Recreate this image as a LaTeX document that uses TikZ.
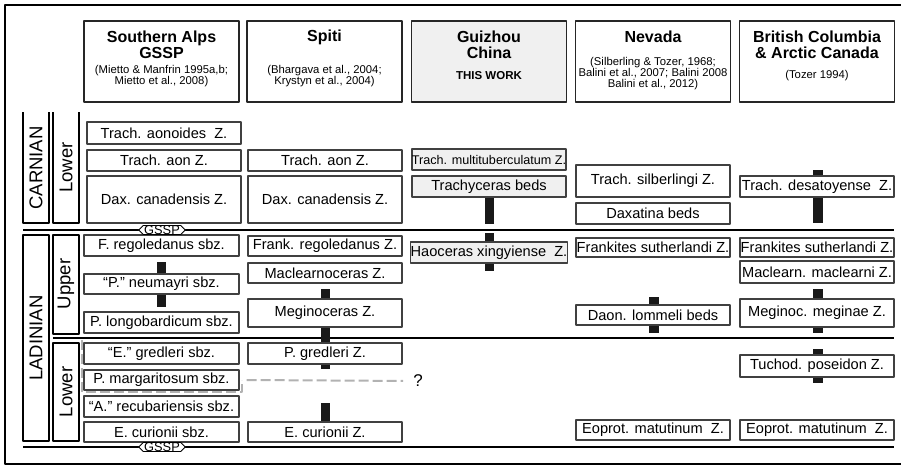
\documentclass[tikz,border=0pt]{standalone}
\usepackage{fontspec}
\setmainfont{Liberation Sans}
\usetikzlibrary{shapes.symbols}

\tikzset{
  zone/.style={draw=black!75, line width=1.3pt, fill=white, inner sep=0pt, minimum width=154pt, font=\fontsize{14.6}{16}\selectfont},
  cnzone/.style={zone, fill=gray!12},
  headbox/.style={draw=black!85, line width=1.4pt, fill=white, minimum width=155pt, minimum height=81pt},
  headtitle/.style={align=center, font=\bfseries\fontsize{16}{16}\selectfont},
  headref/.style={align=center, font=\fontsize{11.3}{10.5}\selectfont},
  stagelabel/.style={rotate=90, font=\fontsize{18.5}{18.5}\selectfont},
  bar/.style={fill=black!90},
  boundary/.style={line width=2.6pt},
  gssp/.style={shape=signal, signal to=west and east, draw, fill=white, line width=0.9pt, inner xsep=1pt, inner ysep=0pt, font=\fontsize{12.8}{12.8}\selectfont},
  markline/.style={gray!60, line width=2pt, dash pattern=on 10pt off 4pt}
}

\begin{document}
\begin{tikzpicture}[line join=round, x=1pt, y=-1pt]

                \useasboundingbox (0,0) rectangle (901,466);
                \draw[line width=2.4pt] (906,5) -- (5,5) -- (5,464) -- (906,464);

                % column heads
                \node[headbox] (hAlps) at (161.5,61.5) {};
                \node[headtitle] (hAlpsTitle) at (161.5,45) {Southern Alps\\GSSP};
                \node[headref] (hAlpsRef) at (161.5,76) {(Mietto \& Manfrin 1995a,b;\\Mietto et al., 2008)};

                \node[headbox] (hSpiti) at (324.5,61.5) {};
                \node[headtitle] (hSpitiTitle) at (324.5,37) {Spiti};
                \node[headref] (hSpitiRef) at (324.5,76) {(Bhargava et al., 2004;\\Krystyn et al., 2004)};

                \node[headbox, fill=gray!12] (hChina) at (489,61.5) {};
                \node[headtitle] (hChinaTitle) at (489,45) {Guizhou\\China};
                \node[headtitle, font=\bfseries\fontsize{11.5}{11.5}\selectfont] (hChinaRef) at (489,76) {THIS WORK};

                \node[headbox] (hNevada) at (653,61.5) {};
                \node[headtitle] (hNevadaTitle) at (653,37) {Nevada};
                \node[headref] (hNevadaRef) at (653,73.5) {(Silberling \& Tozer, 1968;\\Balini et al., 2007; Balini 2008\\Balini et al., 2012)};

                \node[headbox] (hCanada) at (817,61.5) {};
                \node[headtitle] (hCanadaTitle) at (817,45) {British Columbia\\\& Arctic Canada};
                \node[headref] (hCanadaRef) at (817,76) {(Tozer 1994)};

                % stages and substages
                \draw[line width=1.1pt] (23,112) -- (23,223) -- (49,223) -- (49,112);
                \draw[line width=1.1pt] (53,112) -- (53,223) -- (79,223) -- (79,112);
                \draw[line width=1.1pt] (23,235) rectangle (49,441);
                \draw[line width=1.1pt] (53,235) rectangle (79,334);
                \draw[line width=1.1pt] (53,343) rectangle (79,441);
                \node[stagelabel] (carnian) at (36,168) {CARNIAN};
                \node[stagelabel] (carnLower) at (66,167.5) {Lower};
                \node[stagelabel] (ladinian) at (36,338) {LADINIAN};
                \node[stagelabel] (ladUpper) at (66,284) {Upper};
                \node[stagelabel] (ladLower) at (66,392) {Lower};

                \draw[boundary] (23,230) -- (894,230);
                \draw[boundary] (53,338) -- (894,338);
                \draw[boundary] (23,447) -- (894,447);

                % ranges
                \fill[bar] (157,262) rectangle (166,307);
                \fill[bar] (321,289) rectangle (330,369);
                \fill[bar] (321,403) rectangle (330,423);
                \fill[bar] (485,197) rectangle (494,224);
                \fill[bar] (485,233) rectangle (494,271);
                \fill[bar] (649,297) rectangle (659,333);
                \fill[bar] (813,170) rectangle (823,223);
                \fill[bar] (813,289) rectangle (823,333);
                \fill[bar] (813,349) rectangle (823,383);

                % Southern Alps
                \node[zone, minimum height=22pt] (saAonoides) at (164,133) {Trach. aonoides~ Z.};
                \node[zone, minimum height=21pt] (saAon) at (164,160.5) {Trach. aon Z.};
                \node[zone, minimum height=47pt] (saCanadensis) at (164,199.5) {Dax. canadensis Z.};
                \node[zone, minimum width=155pt, minimum height=21pt] (saRegoledanus) at (161.5,245.5) {F. regoledanus sbz.};
                \node[zone, minimum width=155pt, minimum height=20pt] (saNeumayri) at (161.5,284) {``P.'' neumayri sbz.};
                \node[zone, minimum width=155pt, minimum height=21pt] (saLongobardicum) at (161.5,322.5) {P. longobardicum sbz.};
                \node[zone, minimum width=155pt, minimum height=21pt] (saGredleri) at (161.5,353.5) {``E.'' gredleri sbz.};
                \node[zone, minimum width=155pt, minimum height=20pt] (saMargaritosum) at (161.5,380) {P. margaritosum sbz.};
                \node[zone, minimum width=155pt, minimum height=21pt] (saRecubariensis) at (161.5,406.5) {``A.'' recubariensis sbz.};
                \node[zone, minimum width=155pt, minimum height=20pt] (saCurionii) at (161.5,432) {E. curionii sbz.};

                % Spiti
                \node[zone, minimum height=21pt] (spAon) at (325,160.5) {Trach. aon Z.};
                \node[zone, minimum height=47pt] (spCanadensis) at (325,199.5) {Dax. canadensis Z.};
                \node[zone, minimum height=20pt] (spRegoledanus) at (325,246) {Frank. regoledanus Z.};
                \node[zone, minimum height=20pt] (spMaclearnoceras) at (325,273) {Maclearnoceras Z.};
                \node[zone, minimum height=28pt] (spMeginoceras) at (325,313) {Meginoceras Z.};
                \node[zone, minimum height=21pt] (spGredleri) at (325,353.5) {P. gredleri Z.};
                \node[zone, minimum height=20pt] (spCurionii) at (325,432) {E. curionii Z.};

                % Guizhou
                \node[cnzone, minimum height=21pt, font=\fontsize{12.6}{14}\selectfont] (gzMultituberculatum) at (489,159.5) {Trach. multituberculatum Z.};
                \node[cnzone, minimum height=21pt] (gzTrachyceras) at (489,186.5) {Trachyceras beds};
                \node[cnzone, minimum height=21pt] (gzHaoceras) at (489,252.5) {Haoceras xingyiense~ Z.};

                % Nevada
                \node[zone, minimum height=32pt] (nvSilberlingi) at (653,181) {Trach. silberlingi Z.};
                \node[zone, minimum height=21pt] (nvDaxatina) at (653,213.5) {Daxatina beds};
                \node[zone, minimum height=19pt] (nvSutherlandi) at (653,247.5) {Frankites sutherlandi Z.};
                \node[zone, minimum height=20pt] (nvLommeli) at (653,315) {Daon. lommeli beds};
                \node[zone, minimum height=20pt] (nvMatutinum) at (653,430) {Eoprot. matutinum~ Z.};

                % British Columbia & Arctic Canada
                \node[zone, minimum height=21pt] (bcDesatoyense) at (817,186.5) {Trach. desatoyense~ Z.};
                \node[zone, minimum height=19pt] (bcSutherlandi) at (817,247.5) {Frankites sutherlandi Z.};
                \node[zone, minimum height=22pt] (bcMaclearni) at (817,272) {Maclearn. maclearni Z.};
                \node[zone, minimum height=28pt] (bcMeginae) at (817,313) {Meginoc. meginae Z.};
                \node[zone, minimum height=22pt] (bcPoseidon) at (817,366) {Tuchod. poseidon Z.};
                \node[zone, minimum height=20pt] (bcMatutinum) at (817,430) {Eoprot. matutinum~ Z.};

                \node[gssp] (gsspTop) at (162,230) {GSSP};
                \node[gssp] (gsspBase) at (162,447) {GSSP};

                % uncertain correlation
                \node[inner sep=0pt, font=\fontsize{17}{17}\selectfont] (query) at (418,381) {?};
                \draw[markline] (82,340) -- (82,392) -- (242,392) -- (242,380);
                \draw[markline, shorten >=10pt] ([xshift=7pt]saMargaritosum.east) -- (query.west);

\end{tikzpicture}
\end{document}
